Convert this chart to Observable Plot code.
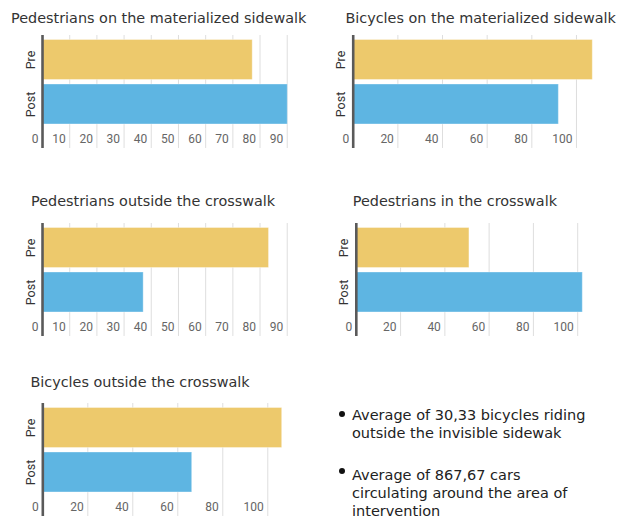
<!DOCTYPE html>
<html><head><meta charset="utf-8">
<script src="https://cdn.jsdelivr.net/npm/d3@7"></script>
<script src="https://cdn.jsdelivr.net/npm/@observablehq/plot@0.6"></script>
<style>
html,body{margin:0;padding:0;background:#fff;}
#root{position:relative;width:619px;height:520px;overflow:hidden;background:#fff;}
.title{position:absolute;font-family:"DejaVu Sans";font-size:14.4px;line-height:14.4px;color:#333;white-space:nowrap;transform-origin:0 0;}
.panel{position:absolute;}
.note{position:absolute;font-family:"DejaVu Sans";font-size:14.5px;line-height:18px;color:#222;white-space:nowrap;}
.dot{position:absolute;width:6px;height:6px;border-radius:50%;background:#111;}
</style></head><body><div id="root"></div>
<script>
// ---- data ----
const phases = ["Pre", "Post"];
const titles = [
  "Pedestrians on the materialized sidewalk",
  "Bicycles on the materialized sidewalk",
  "Pedestrians outside the crosswalk",
  "Pedestrians in the crosswalk",
  "Bicycles outside the crosswalk"
];
const preValues  = [77.3, 107.3, 83.3, 51.1, 106.4];
const postValues = [90.2,  92.1, 37.2, 102.3, 66.4];
const domainMax  = [90.2, 107.3, 90.2, 102.3, 106.4];
const ticksBy10 = [0, 10, 20, 30, 40, 50, 60, 70, 80, 90];
const ticksBy20 = [0, 20, 40, 60, 80, 100];
const tickSets = [ticksBy10, ticksBy20, ticksBy10, ticksBy20, ticksBy20];
const notes = [
  ["Average of 30,33 bicycles riding", "outside the invisible sidewak"],
  ["Average of 867,67 cars", "circulating around the area of", "intervention"]
];
const colors = ["#EDC96C", "#5EB5E2"];

// ---- layout ----
const layout = [
  {left: 0,   top: 35,    axis: 42,    end: 287.3, titleX: 11,    titleY: 10.5},
  {left: 310, top: 35,    axis: 352.7, end: 592.3, titleX: 345.4, titleY: 10.5},
  {left: 0,   top: 222.7, axis: 42,    end: 287.3, titleX: 31,    titleY: 193.8},
  {left: 310, top: 222.7, axis: 355.8, end: 582.3, titleX: 352.8, titleY: 193.8},
  {left: 0,   top: 402.7, axis: 42.3,  end: 281.7, titleX: 30.4,  titleY: 375.1}
];
const H = 113;
const root = document.getElementById("root");

titles.forEach((t, i) => {
  const L = layout[i];
  const td = document.createElement("div");
  td.className = "title";
  td.textContent = t;
  td.style.left = L.titleX + "px";
  td.style.top = L.titleY + "px";
  root.appendChild(td);

  const data = phases.map((p, j) => ({phase: p, value: j === 0 ? preValues[i] : postValues[i]}));
  const mr = 8;
  const W = L.end - L.left + mr;
  const svg = Plot.plot({
    width: W, height: H,
    marginLeft: L.axis - L.left, marginRight: mr, marginTop: 0, marginBottom: 0,
    style: {fontFamily: "Roboto", fontSize: "12px", background: "transparent", overflow: "visible"},
    x: {domain: [0, domainMax[i]]},
    y: {domain: phases, range: [4.5, 89], paddingInner: 0.101, paddingOuter: 0, round: false},
    color: {domain: phases, range: colors},
    marks: [
      Plot.gridX(tickSets[i], {stroke: "#dedede", strokeOpacity: 1, strokeWidth: 1}),
      Plot.barX(data, {x: "value", y: "phase", fill: "phase", stroke: "#ffffff", strokeOpacity: 0.35, strokeWidth: 1}),
      Plot.axisX({ticks: tickSets[i], anchor: "bottom", tickSize: 0, tickPadding: 0, textAnchor: "end",
                  lineAnchor: "bottom", dx: -4, dy: -5.3, fill: "#666", label: null, fontSize: 12}),
      Plot.axisY({anchor: "left", tickSize: 0, tickPadding: 8, tickRotate: -90, fill: "#333", label: null, fontSize: 12.5}),
      Plot.ruleX([0], {stroke: "#5a5a5a", strokeWidth: 2.6})
    ]
  });
  const pd = document.createElement("div");
  pd.className = "panel";
  pd.style.left = L.left + "px";
  pd.style.top = L.top + "px";
  pd.appendChild(svg);
  root.appendChild(pd);
});

// notes
const noteTops = [406, 466];
const dotCenters = [[342, 413.5], [342, 471]];
notes.forEach((lines, k) => {
  const nd = document.createElement("div");
  nd.className = "note";
  nd.style.left = "352px";
  nd.style.top = noteTops[k] + "px";
  nd.innerHTML = lines.map(s => s.replace(/&/g, "&amp;").replace(/</g, "&lt;")).join("<br>");
  root.appendChild(nd);
  const dd = document.createElement("div");
  dd.className = "dot";
  dd.style.left = (dotCenters[k][0] - 3) + "px";
  dd.style.top = (dotCenters[k][1] - 3) + "px";
  root.appendChild(dd);
});
</script></body></html>
